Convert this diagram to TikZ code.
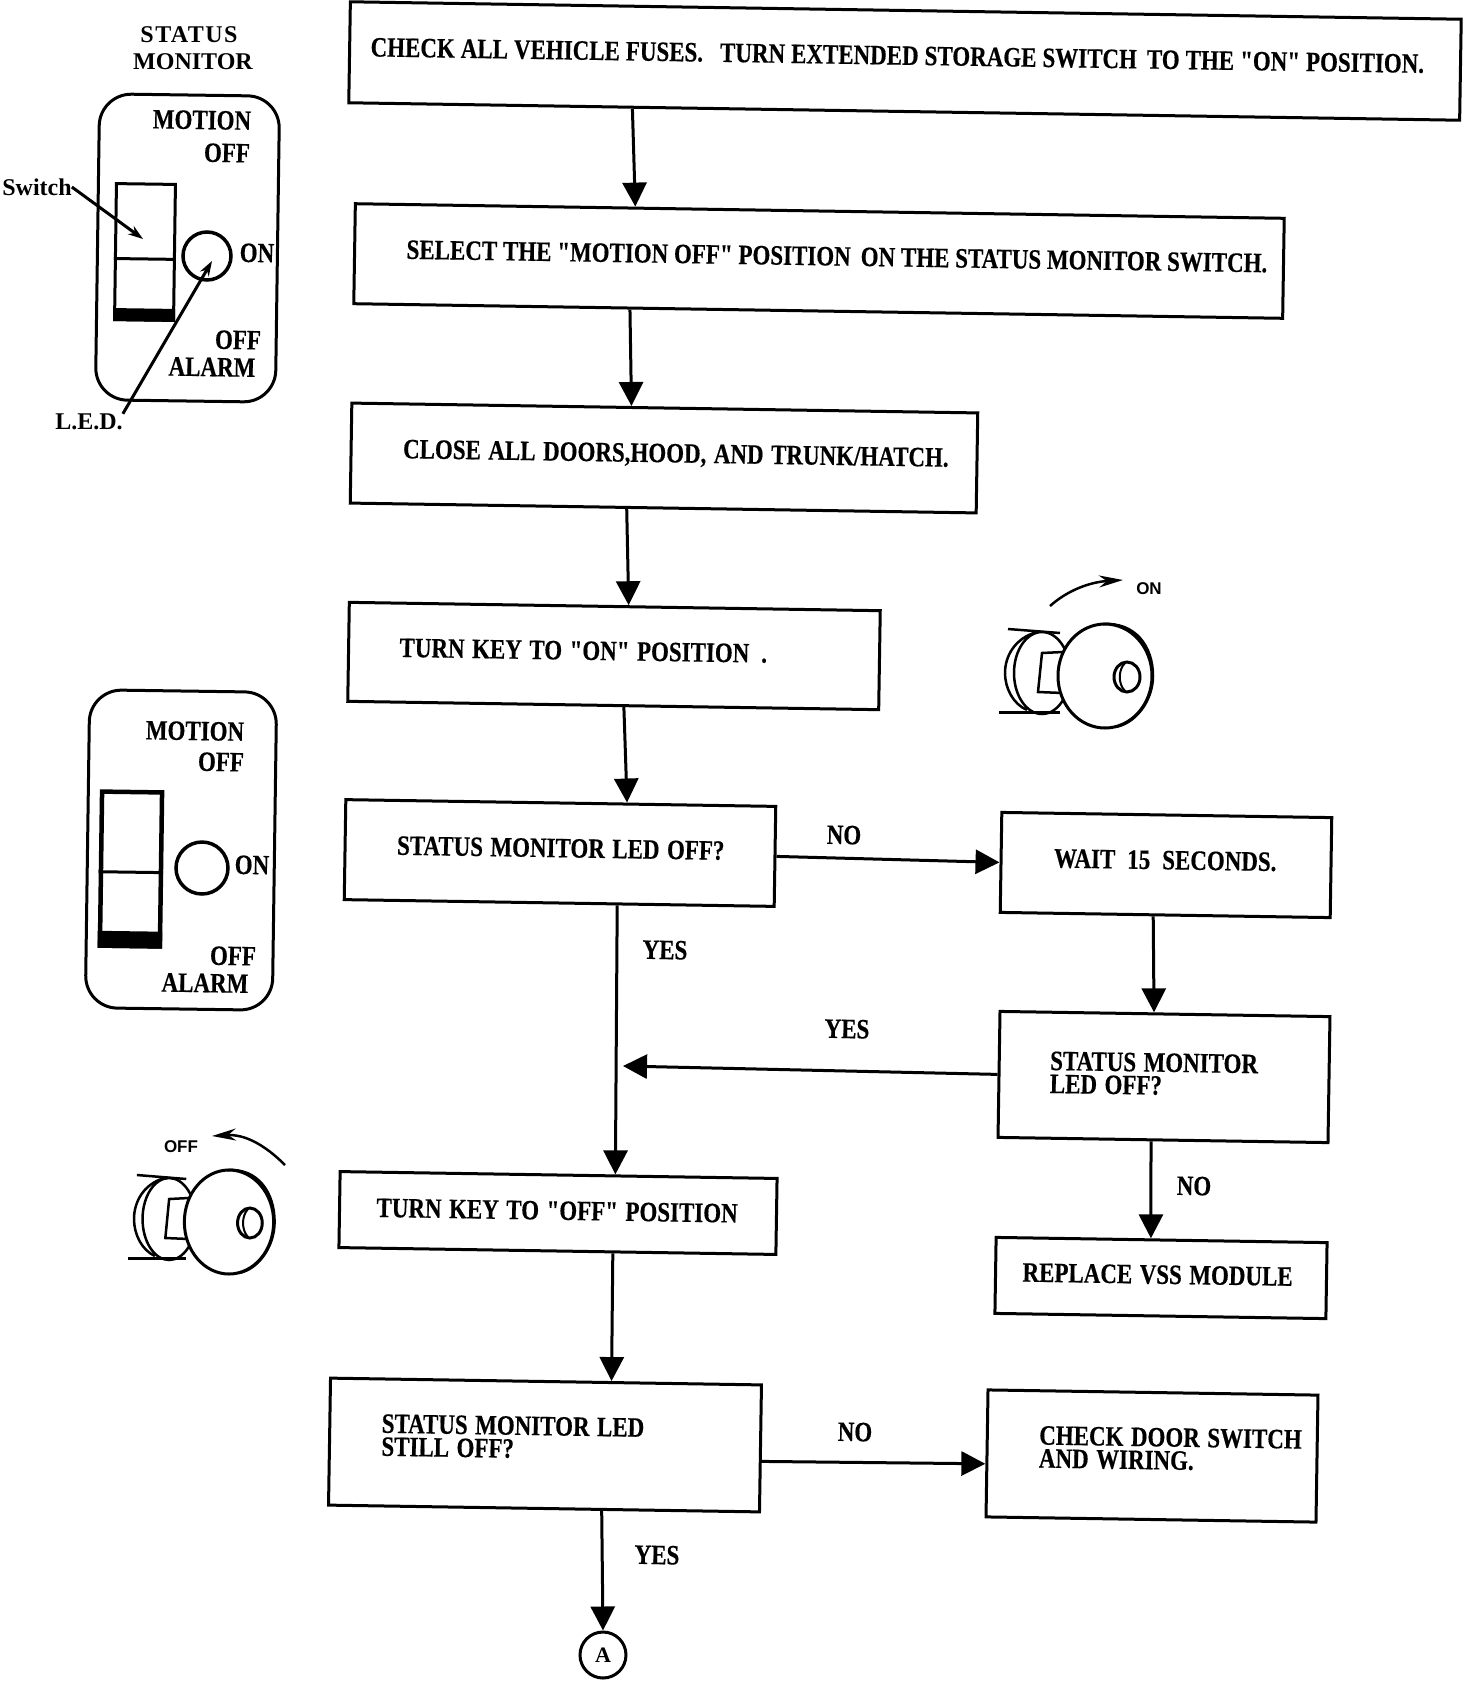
\documentclass[tikz,border=0pt]{standalone}
\usepackage{fontspec}
\newfontfamily\boxfont[FakeStretch=0.82,FakeBold=0.4]{Liberation Serif}
\newfontfamily\plainserif{Liberation Serif}
\newfontfamily\keyfont{Liberation Sans}
\usetikzlibrary{arrows.meta,calc}

\tikzset{
  flowbox/.style n args={3}{draw, line width=3pt, rotate=-0.9, inner sep=0pt,
    text width=#1pt, minimum height=#2pt, align=left, text depth=10pt,
    execute at begin node={\leftskip=#3pt\relax\frenchspacing\spaceskip=7.5pt\relax\hyphenpenalty=10000\relax},
    font=\boxfont\bfseries\fontsize{28}{23}\selectfont},
  flow/.style={line width=3pt, -{Triangle[length=24pt,width=24pt]}},
  pointer/.style={line width=3pt, -{Stealth[length=15pt,width=10pt]}},
  turnarrow/.style={line width=2.5pt, -{Stealth[length=24pt,width=12pt]}},
  caption/.style={inner sep=0pt, rotate=-0.9, font=\boxfont\bfseries\fontsize{28}{23}\selectfont},
  title/.style={inner sep=0pt, font=\plainserif\bfseries\fontsize{24}{24}\selectfont},
  panel/.style={draw, line width=3pt, rounded corners=32pt, rotate=-0.8, inner sep=0pt},
  rocker/.style={draw, line width=3pt, rotate=-0.8, inner sep=0pt},
  lamp/.style={draw, circle, line width=3.5pt, inner sep=0pt},
  keylabel/.style={inner sep=0pt, font=\keyfont\bfseries\fontsize{17}{17}\selectfont},
  keyknob/.pic={
    \draw[line width=2.5pt] (-63,-3) ellipse [x radius=28pt, y radius=41pt];
    \draw[line width=2.5pt] (-68,-44) .. controls (-90,-38) and (-100,-20) .. (-100,-3)
      .. controls (-100,12) and (-92,28) .. (-78,34);
    \draw[line width=2.5pt] (-97,-47) -- (-45,-43);
    \draw[line width=3pt] (-106,36) -- (-45,36);
    \draw[line width=2.5pt] (-42,-24) -- (-63,-23) -- (-67,16) -- (-42,17);
    \draw[line width=3pt, fill=white] (0,0) ellipse [x radius=47pt, y radius=52pt];
    \draw[line width=2.5pt] (-2,-52) .. controls (30,-54) and (48,-30) .. (48,0)
      .. controls (48,25) and (30,48) .. (10,51);
    \draw[line width=3pt] (22,1) ellipse [x radius=13pt, y radius=15pt];
    \draw[line width=2pt] (20,-13) .. controls (13,-6) and (13,8) .. (20,15);
  }
}

\begin{document}
\begin{tikzpicture}[x=1pt,y=-1pt]
  \useasboundingbox (0,0) rectangle (1472,1682);

  % flow chart
  \node[flowbox={1111}{101}{21}, text depth=11pt] (fuses) at (905,61)
    {\spaceskip=6pt CHECK ALL VEHICLE FUSES.\hspace{17pt}TURN EXTENDED STORAGE SWITCH\hspace{10pt}TO THE "ON" POSITION.};
  \node[flowbox={929}{100}{52}] (select) at (819,261)
    {\spaceskip=5.8pt SELECT THE "MOTION OFF" POSITION\hspace{10pt}ON THE STATUS MONITOR SWITCH.};
  \node[flowbox={626}{100}{52}] (close) at (664,458)
    {CLOSE ALL DOORS,HOOD, AND TRUNK/HATCH.};
  \node[flowbox={531}{99}{51}] (keyon) at (614,656)
    {TURN KEY TO "ON" POSITION\hspace{12pt}.};
  \node[flowbox={430}{100}{52}] (ledoff) at (560,853)
    {STATUS MONITOR LED OFF?};
  \node[flowbox={330}{100}{53}] (wait) at (1166,865)
    {\spaceskip=12pt WAIT 15 SECONDS.};
  \node[flowbox={330}{126}{51}, text depth=29pt] (ledagain) at (1164,1077)
    {STATUS MONITOR\\LED OFF?};
  \node[flowbox={437}{76}{37}, text depth=5pt] (keyoff) at (558,1213)
    {TURN KEY TO "OFF" POSITION};
  \node[flowbox={331}{76}{27}, text depth=7pt] (vss) at (1161,1278)
    {REPLACE VSS MODULE};
  \node[flowbox={431}{127}{52}, text depth=38pt] (ledstill) at (545,1445)
    {STATUS MONITOR LED\\STILL OFF?};
  \node[flowbox={330}{127}{52}, text depth=38pt] (door) at (1152,1456)
    {CHECK DOOR SWITCH\\AND WIRING.};
  \node[draw, circle, line width=3pt, minimum size=46pt, inner sep=0pt,
    font=\plainserif\bfseries\fontsize{22}{22}\selectfont] (a) at (603,1655) {A};

  \draw[flow] ($(fuses.south west)!.256!(fuses.south east)$) -- ($(select.north west)!.302!(select.north east)$);
  \draw[flow] ($(select.south west)!.298!(select.south east)$) -- ($(close.north west)!.447!(close.north east)$);
  \draw[flow] ($(close.south west)!.442!(close.south east)$) -- ($(keyon.north west)!.526!(keyon.north east)$);
  \draw[flow] ($(keyon.south west)!.52!(keyon.south east)$) -- ($(ledoff.north west)!.653!(ledoff.north east)$);
  \draw[flow] ($(ledoff.south west)!.634!(ledoff.south east)$) -- ($(keyoff.north west)!.629!(keyoff.north east)$);
  \draw[flow] (ledoff.east) -- (wait.west);
  \draw[flow] ($(wait.south west)!.464!(wait.south east)$) -- ($(ledagain.north west)!.467!(ledagain.north east)$);
  \coordinate (join) at (623,1066);
  \draw[flow] (ledagain.west) -- (join);
  \draw[flow] ($(ledagain.south west)!.464!(ledagain.south east)$) -- ($(vss.north west)!.468!(vss.north east)$);
  \draw[flow] ($(keyoff.south west)!.626!(keyoff.south east)$) -- ($(ledstill.north west)!.651!(ledstill.north east)$);
  \draw[flow] ($(ledstill.north east)!.6!(ledstill.south east)$) -- ($(door.north west)!.58!(door.south west)$);
  \draw[flow] ($(ledstill.south west)!.633!(ledstill.south east)$) -- (a.north);

  \node[caption] (no1) at (844,835) {NO};
  \node[caption] (yes1) at (665,950) {YES};
  \node[caption] (yes2) at (847,1029) {YES};
  \node[caption] (no2) at (1194,1186) {NO};
  \node[caption] (no3) at (855,1432) {NO};
  \node[caption] (yes3) at (657,1555) {YES};

  % top status monitor
  \node[title] (statustitle) at (189,35) {\addfontfeature{LetterSpace=6}STATUS};
  \node[title] (monitortitle) at (193,62) {MONITOR};
  \node[panel, minimum width=180pt, minimum height=306pt] (panelA) at (187.5,248) {};
  \node[rocker, minimum width=59pt, minimum height=136pt] (rockerA) at (145,252) {};
  \draw[line width=3pt] ($(rockerA.north west)!.55!(rockerA.south west)$) -- ($(rockerA.north east)!.55!(rockerA.south east)$);
  \fill (rockerA.south west) -- (rockerA.south east) -- ($(rockerA.south east)+(0,-13)$) -- ($(rockerA.south west)+(0,-13)$) -- cycle;
  \node[lamp, minimum size=48pt] (lampA) at (207,256) {};
  \node[caption] (motionA) at (202,120) {MOTION};
  \node[caption] (offA) at (227,153) {OFF};
  \node[caption] (onA) at (257,253) {ON};
  \node[caption] (offB) at (238,340) {OFF};
  \node[caption] (alarmA) at (212,367) {ALARM};
  \node[title] (switchlabel) at (37,187) {Switch};
  \node[title] (ledlabel) at (89,422) {L.E.D.};
  \coordinate (switchtip) at (143,239);
  \coordinate (lamptip) at (212,261);
  \draw[pointer] (switchlabel.east) -- (switchtip);
  \draw[pointer] (ledlabel.north east) -- (lamptip);

  % lower status monitor
  \node[panel, minimum width=187pt, minimum height=318pt] (panelB) at (181,850) {};
  \node[rocker, minimum width=60pt, minimum height=154pt, line width=4.5pt] (rockerB) at (131,869) {};
  \draw[line width=3pt] ($(rockerB.north west)!.52!(rockerB.south west)$) -- ($(rockerB.north east)!.52!(rockerB.south east)$);
  \fill (rockerB.south west) -- (rockerB.south east) -- ($(rockerB.south east)+(0,-17)$) -- ($(rockerB.south west)+(0,-17)$) -- cycle;
  \node[lamp, minimum size=52pt] (lampB) at (202,868) {};
  \node[caption] (motionB) at (195,731) {MOTION};
  \node[caption] (offC) at (221,762) {OFF};
  \node[caption] (onB) at (252,865) {ON};
  \node[caption] (offD) at (233,956) {OFF};
  \node[caption] (alarmB) at (205,983) {ALARM};

  % ignition keys
  \pic at (1105,676) {keyknob};
  \coordinate (onstart) at (1050,606);
  \coordinate (ontip) at (1123,580);
  \draw[turnarrow] (onstart) .. controls (1068,590) and (1090,582) .. (ontip);
  \node[keylabel] (onkey) at (1149,589) {ON};

  \pic[xscale=.95] at (229,1222) {keyknob};
  \coordinate (offstart) at (285,1165);
  \coordinate (offtip) at (212,1136);
  \draw[turnarrow] (offstart) .. controls (265,1145) and (245,1134) .. (offtip);
  \node[keylabel] (offkey) at (181,1147) {OFF};
\end{tikzpicture}
\end{document}
